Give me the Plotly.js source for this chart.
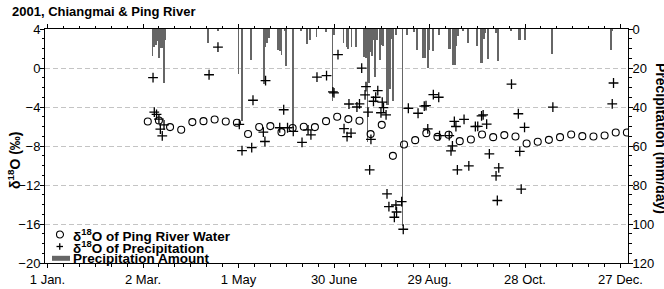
<!DOCTYPE html>
<html><head><meta charset="utf-8">
<script src="https://cdn.plot.ly/plotly-3.0.1.min.js"></script>
<style>html,body{margin:0;padding:0;background:#fff}#chart{width:664px;height:289px}</style>
</head><body><div id="chart"></div>
<script>
// Day of year (1 = 1 Jan 2001)
const tickDays = [1, 61, 121, 181, 241, 301, 361];
const tickLabels = ['1 Jan.', '2 Mar.', '1 May', '30 June', '29 Aug.', '28 Oct.', '27 Dec.'];

// δ18O of Ping River water (weekly)
const riverDay = [64,71,78,85,92,99,106,113,120,127,134,141,148,155,162,169,176,183,190,197,204,211,218,225,232,239,246,253,260,267,274,281,288,295,302,309,316,323,330,337,344,351,358,365];
const riverD18O = [-5.49,-5.38,-6.06,-6.34,-5.55,-5.45,-5.28,-5.49,-5.62,-6.77,-6.05,-5.96,-6.58,-6.16,-6.02,-6.06,-5.45,-5.0,-5.24,-5.41,-6.78,-5.83,-9.01,-7.85,-7.40,-6.68,-7.06,-6.85,-7.50,-7.34,-6.82,-7.09,-6.88,-7.03,-7.75,-7.57,-7.37,-7.09,-6.82,-6.99,-7.03,-6.93,-6.62,-6.62];

// δ18O of precipitation (event samples)
const precipSampleDay = [67.3,68.1,69.5,71.0,71.9,73.1,74.2,102.5,108.1,121.5,123.2,129.3,130.1,136.6,137.6,138.0,146.9,149.4,151.8,155.4,160.9,164.7,166.5,170.3,176.3,180.3,181.0,183.5,187.3,189.2,190.4,191.7,195.4,197.0,198.4,200.5,201.1,202.4,203.4,204.2,205.8,207.2,208.5,210.5,211.3,212.1,213.7,214.3,215.5,218.9,219.9,220.3,223.5,224.5,227.7,233.8,237.7,238.8,239.9,243.4,246.8,247.3,253.4,254.5,255.4,256.6,257.6,258.5,262.7,265.7,269.8,271.3,273.7,274.7,276.9,278.6,282.8,283.6,284.5,292.5,296.8,297.7,298.6,300.7,318.5,355.8,356.6];
const precipD18O = [-0.99,-4.52,-4.75,-5.24,-6.27,-6.96,-5.83,-0.69,2.14,-5.79,-8.47,-8.17,-3.31,-6.58,-7.54,-1.30,-6.13,-4.28,-6.13,-6.49,-7.62,-6.34,-6.85,-0.94,-0.79,-2.45,-2.55,1.37,-6.21,-7.03,-3.69,-6.68,-4.0,-3.67,-0.02,-2.76,-1.92,-4.52,-10.45,-7.32,-3.41,-3.0,-2.33,-4.59,-3.49,-4.06,-4.80,-12.92,-14.22,-15.31,-14.05,-14.77,-13.71,-16.54,-4.13,-4.64,-3.92,-3.85,-6.24,-2.74,-3.0,-6.94,-6.94,-8.5,-7.98,-5.47,-6.0,-10.45,-5.26,-10.04,-6.0,-5.98,-4.90,-4.80,-5.75,-8.81,-11.07,-13.59,-10.24,-1.66,-4.69,-8.55,-12.43,-6.08,-4.01,-3.67,-1.54];

// Daily precipitation amount (mm/day)
const rainDay = [67,68,69,70,71,72,73,74,75,102,108,121,123,129,137,138,139,140,146,147,148,150,151,155,160,164,166,170,176,180,181,187,189,190,192,195,200,201,202,203,204,205,206,207,208,210,211,212,214,215,216,217,218,220,224,227,231,233,237,238,240,241,243,247,253,254,256,257,258,259,262,265,271,273,274,275,276,278,283,284,292,297,298,301,318,355,356];
const rainMM = [14,9,8,6.3,14.8,9.8,9.8,27.7,5.4,7.1,1.2,23,47,16,28,9,7,4.6,10.6,11.4,13.3,1.2,19,51,1.2,7.6,5.4,4,1.5,37,3,7.1,9,10,9,9.4,14.5,14.9,57.7,27.7,12,14,5.4,24.7,5.4,15.7,8,8.9,38.8,38.8,31,5,37,3,101,2.9,1.5,10.6,14.9,14.9,20,10.6,11.4,2.9,10,10,18.3,18.3,8.9,3.7,1.2,7.1,8.9,17.4,17.4,5,2,15.5,2,16.6,1.2,5.4,5.4,5.4,12.8,10.7,1.2];

const legendLabels = ['δ<sup>18</sup>O of Ping River Water', 'δ<sup>18</sup>O of Precipitation', 'Precipitation Amount'];

const FONT = 'Liberation Sans, Arial, Helvetica, sans-serif';
const RAIN_COLOR = '#666666';

// pixel helpers for layout-only elements (legend, titles)
const L = 45, R = 36, T = 29, B = 26, W = 664, H = 289;
const pw = W - L - R, ph = H - T - B;
const xp = px => (px - L) / pw;
const yp = py => (H - B - py) / ph;

const traces = [
  { type: 'bar', x: rainDay, y: rainMM, width: 1.15, yaxis: 'y', xaxis: 'x',
    marker: { color: RAIN_COLOR, line: { width: 0 } }, showlegend: false, hoverinfo: 'skip' },
  { type: 'scatter', mode: 'markers', x: riverDay, y: riverD18O, yaxis: 'y2',
    marker: { symbol: 'circle-open', size: 7, color: '#000', line: { width: 1.1, color: '#000' } }, showlegend: false },
  { type: 'scatter', mode: 'markers', x: precipSampleDay, y: precipD18O, yaxis: 'y2',
    marker: { symbol: 'cross-thin-open', size: 7, color: '#000', line: { width: 1.3, color: '#000' } }, showlegend: false }
];

const legY = [234.5, 246.5, 258.3];
const legTextX = 71;
const shapes = [
  { type: 'circle', xref: 'paper', yref: 'paper', x0: xp(56.5), x1: xp(63.5), y0: yp(legY[0] + 3.5), y1: yp(legY[0] - 3.5), line: { color: '#000', width: 1.1 } },
  { type: 'line', xref: 'paper', yref: 'paper', x0: xp(56.5), x1: xp(63), y0: yp(legY[1]), y1: yp(legY[1]), line: { color: '#000', width: 1.3 } },
  { type: 'line', xref: 'paper', yref: 'paper', x0: xp(59.75), x1: xp(59.75), y0: yp(legY[1] - 3.25), y1: yp(legY[1] + 3.25), line: { color: '#000', width: 1.3 } },
  { type: 'rect', xref: 'paper', yref: 'paper', x0: xp(52), x1: xp(70), y0: yp(legY[2] + 2.5), y1: yp(legY[2] - 2.5), line: { width: 0 }, fillcolor: RAIN_COLOR }
];

const annotations = legendLabels.map((t, i) => ({
  xref: 'paper', yref: 'paper', x: xp(legTextX), y: yp(legY[i]), xanchor: 'left', yanchor: 'middle',
  text: '<b>' + t + '</b>', showarrow: false, font: { size: 13.5, color: '#000', family: FONT }
}));
annotations.push({
  xref: 'paper', yref: 'paper', x: xp(14), y: yp(160), xanchor: 'center', yanchor: 'middle', textangle: -90,
  text: '<b>δ<sup>18</sup>O (‰)</b>', showarrow: false, font: { size: 14, color: '#000', family: FONT }
});
annotations.push({
  xref: 'paper', yref: 'paper', x: xp(661), y: yp(138), xanchor: 'center', yanchor: 'middle', textangle: 90,
  text: '<b>Precipitation (mm/day)</b>', showarrow: false, font: { size: 14, color: '#000', family: FONT }
});

const axisCommon = { showline: true, linecolor: '#000', linewidth: 1, ticks: 'outside', tickcolor: '#000', tickwidth: 1, zeroline: false,
  tickfont: { size: 13, color: '#000', family: FONT } };

const layout = {
  width: W, height: H, margin: { l: L, r: R, t: T, b: B, pad: 0 },
  paper_bgcolor: '#fff', plot_bgcolor: '#fff',
  font: { family: FONT, color: '#000' },
  title: { text: '<b>2001, Chiangmai & Ping River</b>', xref: 'container', yref: 'container', x: 12 / W, xanchor: 'left', y: 1 - 11 / H, yanchor: 'middle', font: { size: 13, family: FONT, color: '#000' } },
  showlegend: false,
  bargap: 0,
  xaxis: Object.assign({}, axisCommon, {
    range: [-0.57, 365.7], tickmode: 'array', tickvals: tickDays, ticktext: tickLabels, ticklen: 4, mirror: 'ticks', showgrid: false,
    minor: { tick0: 1, dtick: 10, ticks: 'outside', ticklen: 2.5, tickcolor: '#000', showgrid: false }
  }),
  yaxis: Object.assign({}, axisCommon, {
    side: 'right', range: [120, 0], tickmode: 'linear', tick0: 0, dtick: 20, ticklen: 4, ticklabelstandoff: -3,
    showgrid: true, gridcolor: '#c4c4c4', griddash: '5px,3px', gridwidth: 1,
    minor: { dtick: 5, ticks: 'outside', ticklen: 2.5, tickcolor: '#000', showgrid: false }
  }),
  yaxis2: Object.assign({}, axisCommon, {
    overlaying: 'y', side: 'left', range: [-20, 4], tickmode: 'linear', tick0: 0, dtick: 4, ticklen: 4, ticklabelstandoff: -3, showgrid: false,
    minor: { dtick: 1, ticks: 'outside', ticklen: 2.5, tickcolor: '#000', showgrid: false }
  }),
  shapes: shapes,
  annotations: annotations
};

Plotly.newPlot('chart', traces, layout, { displayModeBar: false, staticPlot: true });
</script>
</body></html>
